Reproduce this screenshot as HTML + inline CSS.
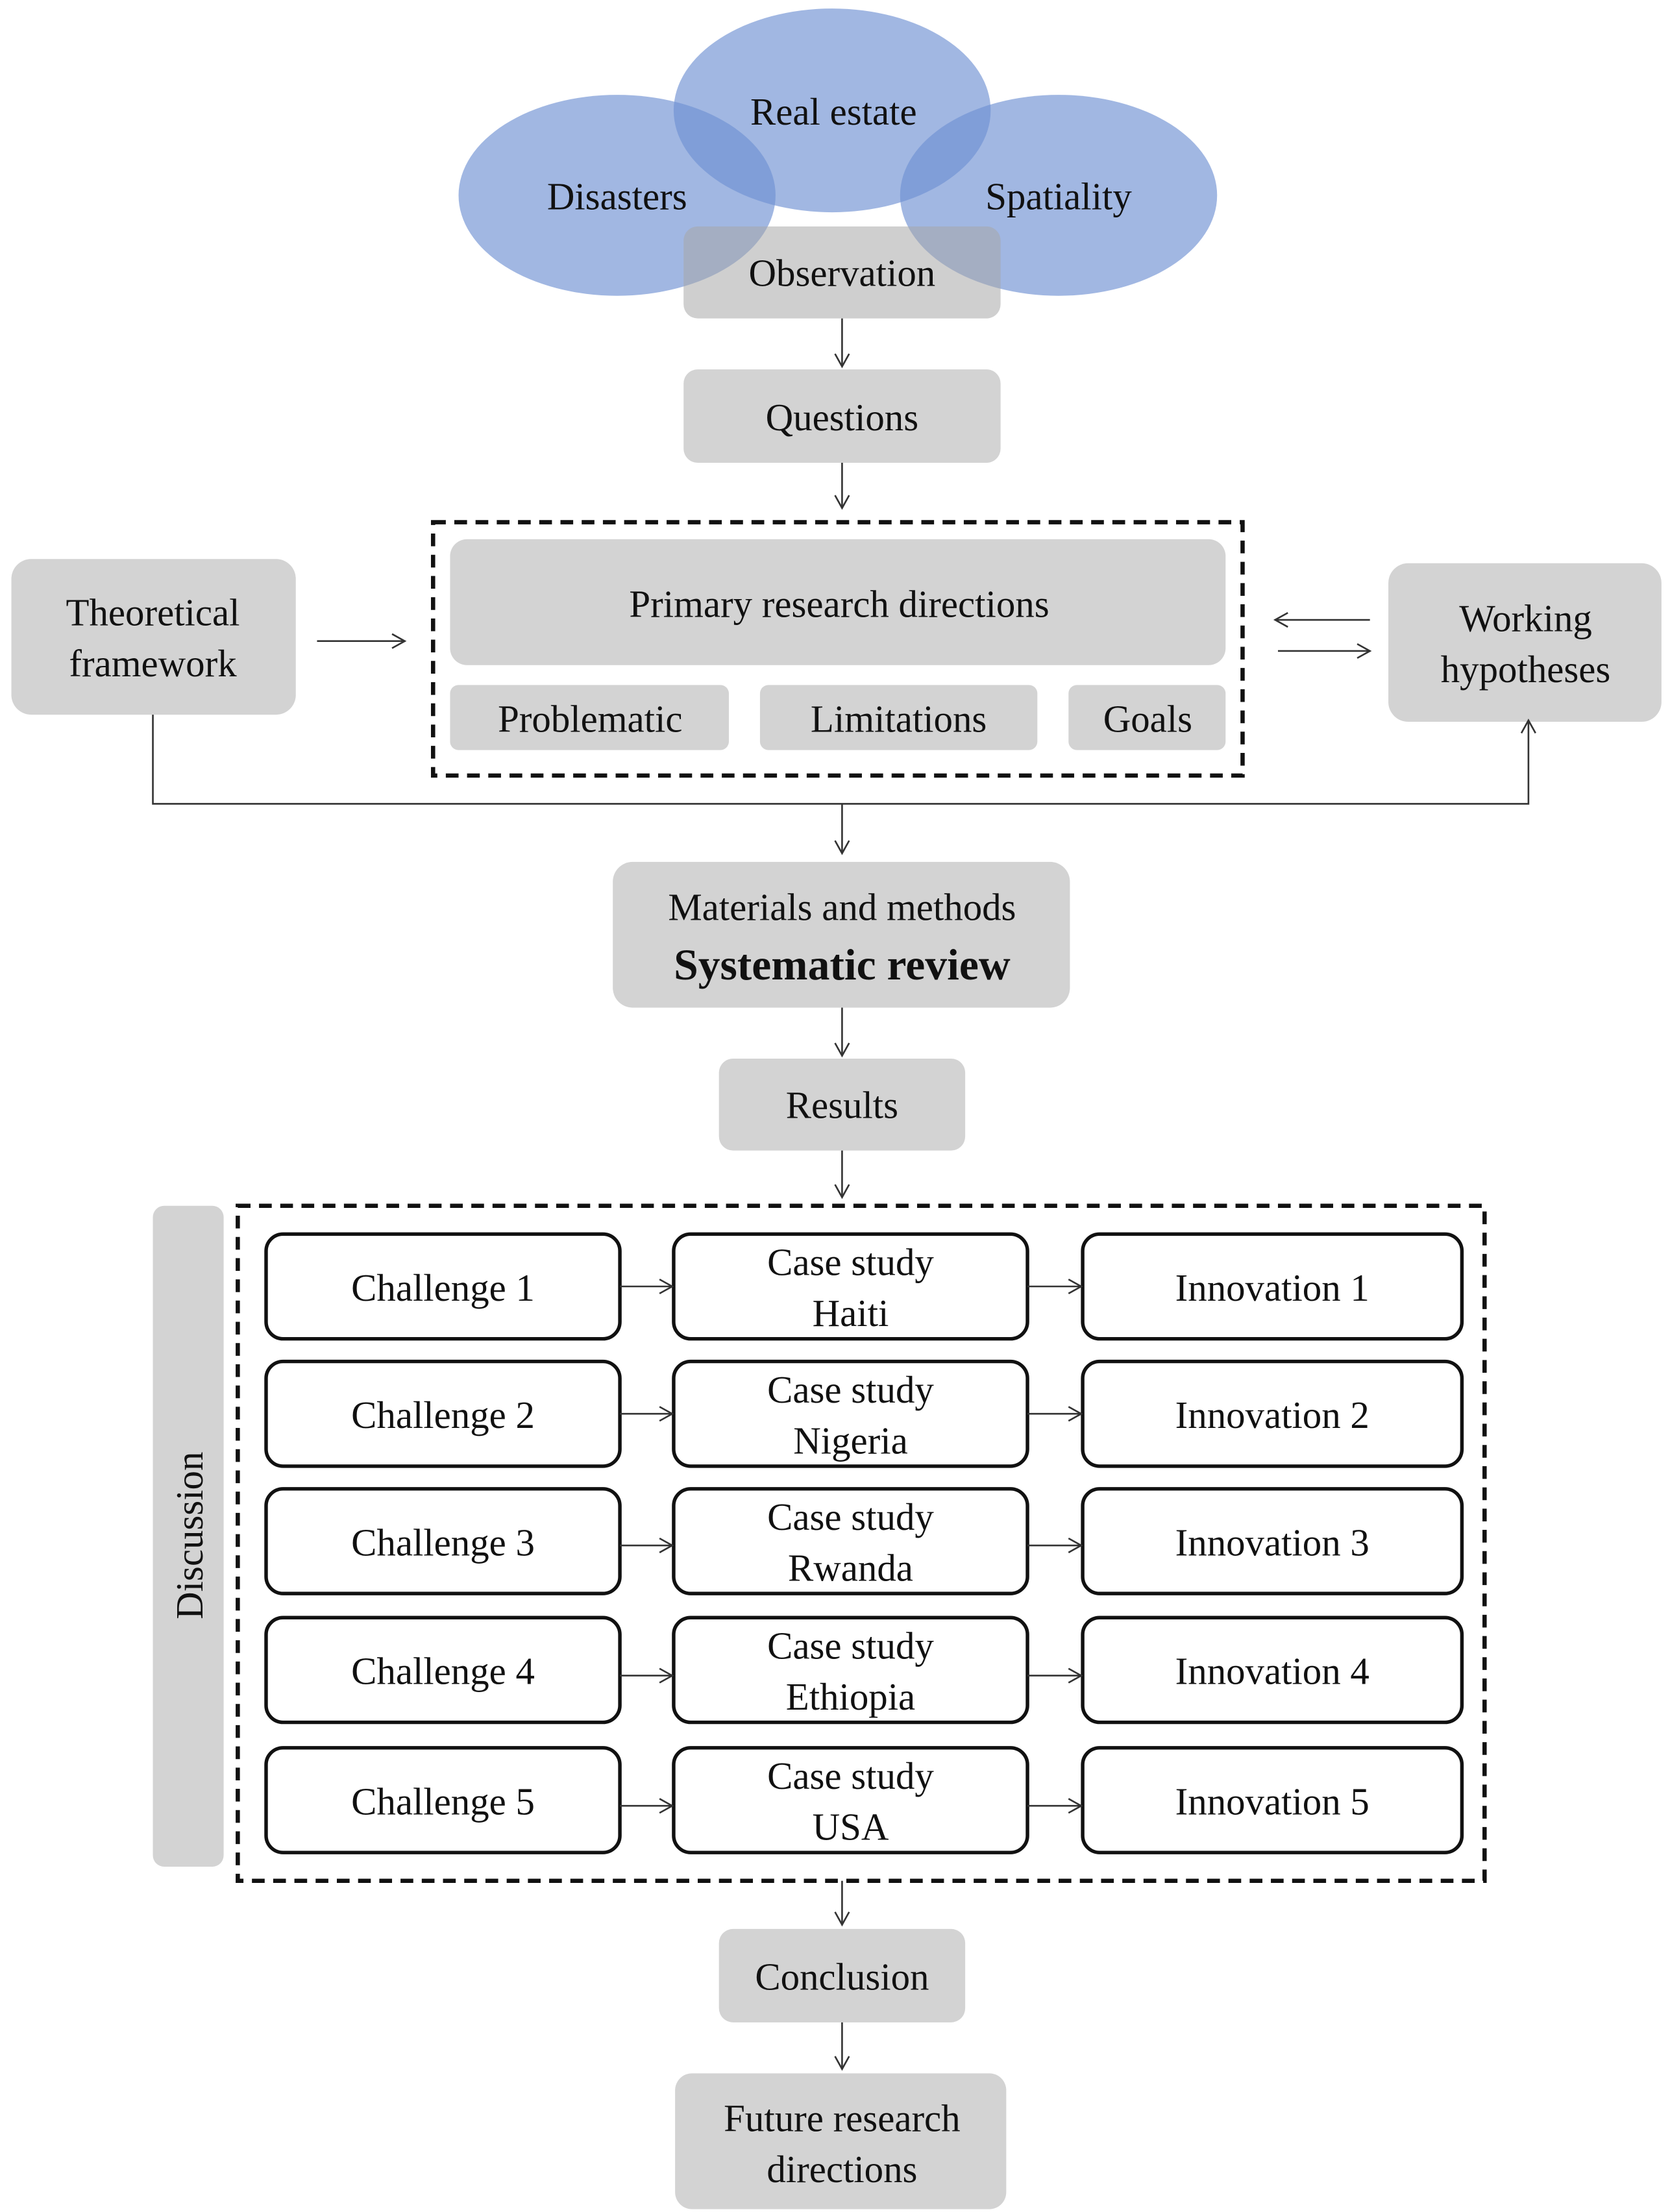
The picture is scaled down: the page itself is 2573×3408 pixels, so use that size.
<!DOCTYPE html>
<html><head><meta charset="utf-8"><style>
html,body{margin:0;padding:0;background:#fff;}
svg{display:block;}
text{font-family:"Liberation Serif",serif;fill:#111;}
</style></head><body>
<svg width="2573" height="3408" viewBox="0 0 1180 1563" xmlns="http://www.w3.org/2000/svg">
<defs>
<marker id="a" markerWidth="12" markerHeight="12" refX="10" refY="6" orient="auto" markerUnits="userSpaceOnUse">
<path d="M1,1 L10,6 L1,11" fill="none" stroke="#333" stroke-width="1.2"/>
</marker>
</defs>
<rect width="1180" height="1563" fill="#fff"/>
<!-- circles -->
<g fill="#6f90d2" fill-opacity="0.65">
<ellipse cx="436" cy="138" rx="112" ry="71"/>
<ellipse cx="588" cy="78" rx="112" ry="72"/>
<ellipse cx="748" cy="138" rx="112" ry="71"/>
</g>
<rect x="483" y="160" width="224" height="65" rx="10" fill="#a8a8a8" fill-opacity="0.55"/>
<g font-size="27" text-anchor="middle">
<text x="589" y="88">Real estate</text>
<text x="436" y="148">Disasters</text>
<text x="748" y="148">Spatiality</text>
<text x="595" y="202">Observation</text>
</g>
<g fill="#d3d3d3">
<rect x="483" y="261" width="224" height="66" rx="10"/>
<rect x="318" y="381" width="548" height="89" rx="12"/>
<rect x="318" y="484" width="197" height="46" rx="6"/>
<rect x="537" y="484" width="196" height="46" rx="6"/>
<rect x="755" y="484" width="111" height="46" rx="6"/>
<rect x="8" y="395" width="201" height="110" rx="14"/>
<rect x="981" y="398" width="193" height="112" rx="14"/>
<rect x="433" y="609" width="323" height="103" rx="14"/>
<rect x="508" y="748" width="174" height="65" rx="10"/>
<rect x="108" y="852" width="50" height="467" rx="8"/>
<rect x="508" y="1363" width="174" height="66" rx="10"/>
<rect x="477" y="1465" width="234" height="96" rx="12"/>
</g>
<g fill="none" stroke="#111" stroke-width="3" stroke-dasharray="9,6">
<rect x="306" y="369" width="572" height="179"/>
<rect x="168" y="852" width="881" height="477"/>
</g>
<g fill="#fff" stroke="#111" stroke-width="2.5">
<rect x="188" y="872" width="250" height="74" rx="12"/><rect x="476" y="872" width="250" height="74" rx="12"/><rect x="765" y="872" width="268" height="74" rx="12"/>
<rect x="188" y="962" width="250" height="74" rx="12"/><rect x="476" y="962" width="250" height="74" rx="12"/><rect x="765" y="962" width="268" height="74" rx="12"/>
<rect x="188" y="1052" width="250" height="74" rx="12"/><rect x="476" y="1052" width="250" height="74" rx="12"/><rect x="765" y="1052" width="268" height="74" rx="12"/>
<rect x="188" y="1143" width="250" height="74" rx="12"/><rect x="476" y="1143" width="250" height="74" rx="12"/><rect x="765" y="1143" width="268" height="74" rx="12"/>
<rect x="188" y="1235" width="250" height="74" rx="12"/><rect x="476" y="1235" width="250" height="74" rx="12"/><rect x="765" y="1235" width="268" height="74" rx="12"/>
</g>
<g stroke="#333" stroke-width="1.2" fill="none" marker-end="url(#a)">
<line x1="595" y1="225" x2="595" y2="259"/>
<line x1="595" y1="327" x2="595" y2="359"/>
<line x1="224" y1="453" x2="286" y2="453"/>
<line x1="968" y1="438" x2="901" y2="438"/>
<line x1="903" y1="460" x2="968" y2="460"/>
<polyline points="108,505 108,568 1080,568 1080,509"/>
<line x1="595" y1="568" x2="595" y2="603"/>
<line x1="595" y1="712" x2="595" y2="746"/>
<line x1="595" y1="813" x2="595" y2="846"/>
<line x1="595" y1="1329" x2="595" y2="1360"/>
<line x1="595" y1="1429" x2="595" y2="1462"/>
<line x1="438" y1="909" x2="475" y2="909"/><line x1="726" y1="909" x2="764" y2="909"/>
<line x1="438" y1="999" x2="475" y2="999"/><line x1="726" y1="999" x2="764" y2="999"/>
<line x1="438" y1="1092" x2="475" y2="1092"/><line x1="726" y1="1092" x2="764" y2="1092"/>
<line x1="438" y1="1184" x2="475" y2="1184"/><line x1="726" y1="1184" x2="764" y2="1184"/>
<line x1="438" y1="1276" x2="475" y2="1276"/><line x1="726" y1="1276" x2="764" y2="1276"/>
</g>
<g font-size="27" text-anchor="middle">
<text x="595" y="304">Questions</text>
<text x="593" y="436">Primary research directions</text>
<text x="417" y="517">Problematic</text>
<text x="635" y="517">Limitations</text>
<text x="811" y="517">Goals</text>
<text x="108" y="442">Theoretical</text>
<text x="108" y="478">framework</text>
<text x="1078" y="446">Working</text>
<text x="1078" y="482">hypotheses</text>
<text x="595" y="650">Materials and methods</text>
<text x="595" y="692" font-weight="bold" font-size="31">Systematic review</text>
<text x="595" y="790">Results</text>
<text x="595" y="1406">Conclusion</text>
<text x="595" y="1506">Future research</text>
<text x="595" y="1542">directions</text>
<text transform="translate(143,1085) rotate(-90)">Discussion</text>
<text x="313" y="919">Challenge 1</text><text x="601" y="901">Case study</text><text x="601" y="937">Haiti</text><text x="899" y="919">Innovation 1</text>
<text x="313" y="1009">Challenge 2</text><text x="601" y="991">Case study</text><text x="601" y="1027">Nigeria</text><text x="899" y="1009">Innovation 2</text>
<text x="313" y="1099">Challenge 3</text><text x="601" y="1081">Case study</text><text x="601" y="1117">Rwanda</text><text x="899" y="1099">Innovation 3</text>
<text x="313" y="1190">Challenge 4</text><text x="601" y="1172">Case study</text><text x="601" y="1208">Ethiopia</text><text x="899" y="1190">Innovation 4</text>
<text x="313" y="1282">Challenge 5</text><text x="601" y="1264">Case study</text><text x="601" y="1300">USA</text><text x="899" y="1282">Innovation 5</text>
</g>
</svg>
</body></html>
